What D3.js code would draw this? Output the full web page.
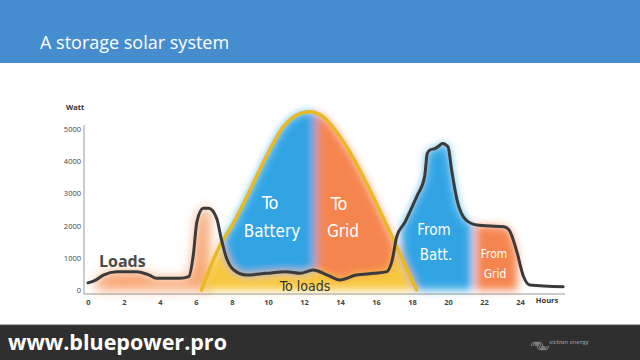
<!DOCTYPE html>
<html>
<head>
<meta charset="utf-8">
<script src="https://cdn.jsdelivr.net/npm/d3@7"></script>
<style>
  body { margin: 0; background: #fff; }
  svg { display: block; }
</style>
</head>
<body>
<div id="wrapper"></div>
<script>
// household load through the day (hours, watt)
var loadHours = [0, 0.4, 0.85, 1.6, 2.7, 3.4, 3.8, 5.1, 5.6, 5.85, 6.05, 6.4, 6.7, 7.15, 7.4, 7.7, 8.1, 8.8, 9.9, 11.0, 11.8, 12.5, 13.3, 14.0, 14.9, 15.9, 16.6, 16.9, 17.15, 17.6, 18.1, 18.3, 18.7, 18.85, 19.0, 19.3, 19.55, 19.7, 20.0, 20.2, 20.5, 21.0, 21.6, 23.1, 23.4, 23.8, 24.2, 24.55, 26.4]
var loadWatts = [220, 300, 465, 570, 570, 465, 363, 363, 413, 1087, 2120, 2540, 2540, 2226, 1600, 985, 620, 465, 517, 570, 517, 620, 465, 310, 465, 517, 570, 930, 1655, 2100, 2700, 2950, 3520, 4245, 4350, 4400, 4500, 4555, 4450, 3730, 2800, 2175, 2020, 1965, 1860, 1240, 413, 155, 100]

// solar production
var sunHours = [6.3, 7.3, 8.07, 9.0, 9.9, 10.85, 11.8, 12.3, 13.07, 14.0, 15.1, 16.2, 17.15, 18.25]
var sunWatts = [0, 1345, 2070, 3100, 4140, 5070, 5490, 5540, 5380, 4760, 3730, 2480, 1345, 0]

// painted energy flows: [from hour, to hour, kind]
var flowNames  = ["early", "toBattery", "toGrid", "fromBatt", "fromGrid"]
var flowStart  = [0.45, 7.0, 12.65, 17.4, 21.55]
var flowEnd    = [6.75, 12.65, 17.3, 21.35, 23.85]
var flowKind   = ["under", "between", "between", "under", "under"]
var flowColor  = ["#f5843f", "#1e9be2", "#f4783a", "#1e9be2", "#f4783a"]

var xTicks = [0, 2, 4, 6, 8, 10, 12, 14, 16, 18, 20, 22, 24]
var yTicks = [0, 1000, 2000, 3000, 4000, 5000]

var loads = loadHours.map((h, i) => ({h: h, w: loadWatts[i]}))
var sun = sunHours.map((h, i) => ({h: h, w: sunWatts[i]}))

var width = 640, height = 360

const svg = d3.select("#wrapper")
    .append("svg")
    .attr("width", width)
    .attr("height", height)

var x = d3.scaleLinear().domain([0, 26.5]).range([88, 565])
var y = d3.scaleLinear().domain([0, 5500]).range([290, 113])

// header
svg.append("rect")
    .attr("width", width).attr("height", 63)
    .style("fill", "#468dcf")
svg.append("text")
    .attr("x", 40).attr("y", 49)
    .style("font-family", "'Open Sans'")
    .style("font-size", "18px")
    .style("fill", "#fff")
    .text("A storage solar system")

// footer
svg.append("rect")
    .attr("y", 325).attr("width", width).attr("height", 35)
    .style("fill", "#2f2f2f")
svg.append("line")
    .attr("x1", 0).attr("x2", width).attr("y1", 325).attr("y2", 325)
    .style("stroke", "#555")
svg.append("text")
    .attr("x", 8).attr("y", 350)
    .style("font-family", "'Open Sans'")
    .style("font-weight", "bold")
    .style("font-size", "21.5px")
    .style("fill", "#fff")
    .text("www.bluepower.pro")
var logo = svg.append("g").attr("transform", "translate(531,343)")
for (let i = 0; i < 4; i++) {
    logo.append("path")
        .attr("d", `M${i*2},3 q3,-8 6,0 q3,8 6,0`)
        .style("fill", "none")
        .style("stroke", "#999")
        .style("stroke-width", 0.8)
}
logo.append("text")
    .attr("x", 18).attr("y", 1)
    .style("font-family", "'DejaVu Sans'")
    .style("font-size", "5.5px")
    .style("fill", "#aaa")
    .text("victron energy")

// defs: blur + clips
const defs = svg.append("defs")
defs.append("filter")
    .attr("id", "paint")
    .attr("x", "-20%").attr("y", "-20%").attr("width", "140%").attr("height", "140%")
    .append("feGaussianBlur").attr("stdDeviation", 4)
defs.append("filter")
    .attr("id", "paintSoft")
    .attr("x", "-20%").attr("y", "-30%").attr("width", "140%").attr("height", "160%")
    .append("feGaussianBlur").attr("stdDeviation", 6)

var underArea = d3.area().x(d => x(d.h)).y0(y(0)).y1(d => y(d.w)).curve(d3.curveMonotoneX)
var aboveArea = d3.area().x(d => x(d.h)).y0(y(5800)).y1(d => y(d.w)).curve(d3.curveMonotoneX)
var line = d3.line().x(d => x(d.h)).y(d => y(d.w)).curve(d3.curveMonotoneX)

defs.append("clipPath").attr("id", "underSun")
    .append("path").attr("d", underArea(sun))
defs.append("clipPath").attr("id", "aboveSun")
    .append("path").attr("d", aboveArea(sun) + "M0,0H" + x(sunHours[0]) + "V" + y(0) + "H0Z" +
        "M" + x(sunHours[sunHours.length - 1]) + ",0H" + width + "V" + y(0) + "H" + x(sunHours[sunHours.length - 1]) + "Z")

flowNames.forEach((name, i) => {
    defs.append("clipPath").attr("id", "range_" + name)
        .append("rect")
        .attr("x", x(flowStart[i])).attr("width", x(flowEnd[i]) - x(flowStart[i]))
        .attr("y", y(5800)).attr("height", y(0) - y(5800))
})

// painted fills
const paint = svg.append("g").attr("filter", "url(#paint)").style("opacity", 0.9)

flowNames.forEach((name, i) => {
    var host = name == "early" ? svg.insert("g", ":first-child").attr("filter", "url(#paintSoft)").style("opacity", 0.75) : paint
    var outer = host.append("g")
        .attr("clip-path", flowKind[i] == "between" ? "url(#underSun)" : (name == "fromBatt" ? "url(#aboveSun)" : null))
    outer.append("g")
        .attr("clip-path", "url(#range_" + name + ")")
        .append("path")
        .attr("d", flowKind[i] == "between" ? aboveArea(loads) : underArea(loads))
        .style("fill", flowColor[i])
})

// solar used by the loads
paint.append("g")
    .attr("clip-path", "url(#underSun)")
    .append("path")
    .attr("d", underArea(loads))
    .style("fill", "#f6c22b")

// axes
const xAxis = svg.append("g")
    .attr("transform", "translate(0,294)")
    .call(d3.axisBottom(x).tickValues(xTicks).tickSize(0).tickPadding(6))
xAxis.select(".domain").attr("d", `M${x(0) - 4},0H${x(26.5)}`).style("stroke", "#999")
xAxis.selectAll("text")
    .style("font-family", "'Open Sans'").style("font-size", "7.5px")
    .style("font-weight", "bold").style("fill", "#444")
svg.append("text")
    .attr("x", 547).attr("y", 303)
    .attr("text-anchor", "middle")
    .style("font-family", "'Open Sans'").style("font-size", "7.5px")
    .style("font-weight", "bold").style("fill", "#333")
    .text("Hours")

const yAxis = svg.append("g")
    .attr("transform", "translate(84,0)")
    .call(d3.axisLeft(y).tickValues(yTicks).tickFormat(d3.format("d")).tickSize(0).tickPadding(3))
yAxis.select(".domain").attr("d", `M0,${y(5120)}V294`).style("stroke", "#999")
yAxis.selectAll("text")
    .style("font-family", "'Open Sans'").style("font-size", "7.5px")
    .style("fill", "#444")
svg.append("text")
    .attr("x", 66).attr("y", 110)
    .style("font-family", "'Open Sans'").style("font-size", "7.5px")
    .style("font-weight", "bold").style("fill", "#333")
    .text("Watt")

// lines
svg.append("path")
    .attr("d", line(sun))
    .style("fill", "none")
    .style("stroke", "#e8b923")
    .style("stroke-width", 3.5)
    .style("stroke-linecap", "round")

svg.append("path")
    .attr("d", line(loads))
    .style("fill", "none")
    .style("stroke", "#3b3b3b")
    .style("stroke-width", 3)
    .style("stroke-linecap", "round")
    .style("stroke-linejoin", "round")

// labels
svg.append("text")
    .attr("x", 99).attr("y", 267)
    .style("font-family", "'Open Sans'").style("font-weight", "bold")
    .style("font-size", "16px").style("fill", "#4a4a4a")
    .text("Loads")

var labels = [
    ["To", 270, 209, 18, "#fff"], ["Battery", 272, 237, 17, "#fff"],
    ["To", 339, 210, 18, "#fff"], ["Grid", 343, 237, 17, "#fff"],
    ["From", 434, 235, 15, "#fff"], ["Batt.", 436, 260, 15, "#fff"],
    ["From", 494, 258, 12, "#fff"], ["Grid", 495, 278, 12, "#fff"],
    ["To loads", 305, 291, 14, "#333"]
]
svg.selectAll(".flowLabel")
    .data(labels)
    .enter()
    .append("text")
    .attr("class", "flowLabel")
    .attr("x", d => d[1]).attr("y", d => d[2])
    .attr("text-anchor", "middle")
    .style("font-family", "'Comic Sans MS', 'DejaVu Sans Condensed', sans-serif")
    .style("font-size", d => d[3] + "px")
    .style("fill", d => d[4])
    .text(d => d[0])
</script>
</body>
</html>
